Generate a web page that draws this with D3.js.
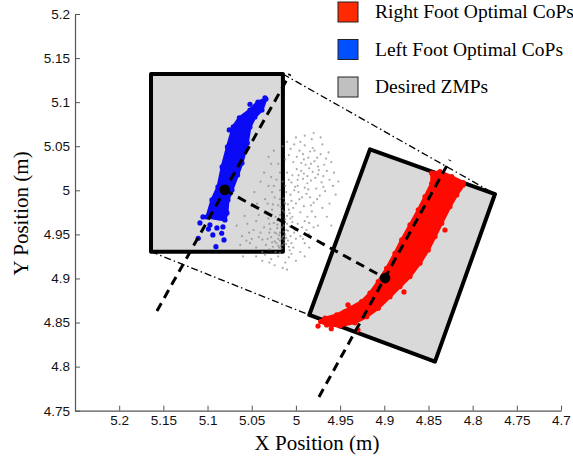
<!DOCTYPE html>
<html>
<head>
<meta charset="utf-8">
<script src="https://cdnjs.cloudflare.com/ajax/libs/d3/7.8.5/d3.min.js"></script>
<style>
  body { margin: 0; background: #fff; }
</style>
</head>
<body>
<div id="chart"></div>
<script>
// tick labels
var xTicks = [5.2, 5.15, 5.1, 5.05, 5, 4.95, 4.9, 4.85, 4.8, 4.75, 4.7];
var yTicks = [4.75, 4.8, 4.85, 4.9, 4.95, 5, 5.05, 5.1, 5.15, 5.2];

// foot rectangles (corners, m)
var leftFoot = [[5.164, 5.132], [5.0147, 5.132], [5.0147, 4.9304], [5.164, 4.9304]];
var rightFoot = [[4.9162, 5.0465], [4.7747, 4.9958], [4.8426, 4.8056], [4.9849, 4.8586]];

// foot centres and axes
var centres = [[5.0805, 5.0005], [4.8991, 4.9004]];
var leftAxis = [[5.1573, 4.8631], [5.0067, 5.1319]];
var rightAxis = [[4.9739, 4.7656], [4.8256, 5.0344]];

// support polygon edges (dash-dot)
var hullTop = [[5.0147, 5.1319], [4.7747, 4.9958]];
var hullBottom = [[5.1641, 4.9304], [4.9849, 4.8586]];

// dense region of left foot optimal CoPs
var leftCoPBand = [
  [5.0339, 5.1036], [5.0384, 5.0911], [5.0464, 5.0832], [5.0520, 5.0719], [5.0550, 5.0537],
  [5.0610, 5.0310], [5.0660, 5.0174], [5.0724, 5.0004], [5.0769, 4.9891], [5.0780, 4.9743],
  [5.0803, 4.9664], [5.1007, 4.9698], [5.0950, 4.9891], [5.0882, 5.0038], [5.0835, 5.0265],
  [5.0775, 5.0492], [5.0710, 5.0719], [5.0640, 5.0821], [5.0520, 5.0911], [5.0430, 5.1002]
];
var leftCoPPoints = [
  [5.0754, 5.0685], [5.0520, 5.0976], [5.1052, 4.9698], [5.1086, 4.9630], [5.1105, 4.9456],
  [5.0905, 4.9361], [5.0840, 4.9513], [5.0894, 4.9573], [5.0826, 4.9585], [5.0860, 4.9698],
  [5.0973, 4.9607], [5.0940, 4.9494], [5.0814, 4.9437], [5.0350, 5.1050], [5.0990, 4.9560]
];

// dense region of right foot optimal CoPs
var rightCoPBand = [
  [4.8106, 5.0061], [4.8180, 4.9947], [4.8256, 4.9815], [4.8350, 4.9627], [4.8426, 4.9475],
  [4.8502, 4.9324], [4.8596, 4.9173], [4.8709, 4.9021], [4.8822, 4.8908], [4.8935, 4.8794],
  [4.9068, 4.8663], [4.9199, 4.8567], [4.9332, 4.8499], [4.9501, 4.8462], [4.9652, 4.8473],
  [4.9720, 4.8511], [4.9671, 4.8549], [4.9539, 4.8587], [4.9388, 4.8663], [4.9256, 4.8737],
  [4.9162, 4.8833], [4.9068, 4.8964], [4.8973, 4.9116], [4.8879, 4.9286], [4.8803, 4.9437],
  [4.8709, 4.9607], [4.8615, 4.9777], [4.8539, 4.9928], [4.8463, 5.0080], [4.8463, 5.0194],
  [4.8369, 5.0212], [4.8237, 5.0155], [4.8106, 5.0087]
];
var rightCoPPoints = [
  [4.9411, 4.8700], [4.9298, 4.8417], [4.8483, 4.9494], [4.9750, 4.8460], [4.9445, 4.8620],
  [4.8777, 4.8847], [4.8313, 4.9550], [4.8143, 5.0027], [4.9600, 4.8430], [4.8880, 4.9050]
];

// desired ZMPs
var zmpPoints = [
  [5.012,4.985],[5.018,4.972],[5.021,4.961],[5.009,4.954],[5.015,4.947],[5.024,4.942],[5.011,4.939],
  [5.019,4.935],[5.006,4.968],[5.027,4.978],[5.014,4.991],[5.008,4.978],[5.022,4.951],[5.016,4.958],
  [5.013,4.944],[5.026,4.936],[5.010,4.962],[5.020,4.983],[5.005,4.988],[5.017,4.966],[5.023,4.970],
  [5.012,4.950],[5.028,4.947],[5.009,4.943],[5.015,4.938],[5.021,4.957],[5.007,4.959],[5.025,4.963],
  [5.013,4.975],[5.003,4.980],[5.018,4.990],[5.011,4.998],[5.024,4.992],[5.006,4.948],[5.020,4.945],
  [5.014,4.953],[5.017,4.981],[5.010,4.971],[5.029,4.956],[5.004,4.964],[5.016,4.934],[5.022,4.940],
  [5.008,4.936],[5.019,4.949],[5.012,4.967],[5.026,4.984],[5.002,4.952],[5.015,4.977],[5.021,4.966],
  [5.009,4.984],[5.031,4.968],[5.014,4.960],[5.018,4.943],[5.007,4.974],[5.024,4.952],[5.011,4.946],
  [5.020,4.937],[5.013,4.986],[5.005,4.940],[5.027,4.941],
  [5.016,4.945],[5.013,4.940],[5.018,4.952],[5.014,4.948],[5.017,4.937],[5.011,4.955],
  [4.998,5.012],[4.985,5.025],[4.992,5.041],[4.975,5.018],[5.003,5.032],[4.981,5.048],[4.968,5.029],
  [4.990,5.003],[4.977,5.002],[5.006,5.047],[4.995,5.055],[4.986,5.037],[4.972,5.041],[4.962,5.012],
  [4.983,5.011],[4.999,5.024],[4.991,5.019],[4.979,5.033],[4.965,5.022],[5.001,5.004],[4.988,4.996],
  [4.973,4.994],[4.994,5.031],[4.982,5.058],[4.970,5.052],[4.996,5.045],[4.958,5.005],[4.987,5.008],
  [4.975,5.027],[5.004,5.017],[4.993,4.992],[4.980,4.986],[4.967,4.999],[4.999,5.038],[4.984,5.044],
  [4.978,5.014],[4.960,5.032],[4.989,5.029],[5.002,5.052],[4.971,5.009],[4.990,5.051],[4.963,5.043],
  [4.986,5.001],[4.997,4.998],[4.976,5.037],[4.981,5.021],[5.005,5.009],[4.969,5.016],[4.992,5.013],
  [4.984,4.992],
  [4.955,4.995],[4.952,5.010],[4.957,5.020],[4.962,4.985],[4.970,4.980],[4.965,4.970],[4.975,4.960],
  [4.960,4.960],[4.972,5.060],[4.980,5.065],[4.990,5.062],[5.000,5.060],[5.010,5.055],[5.008,5.040],
  [5.015,5.050],[5.002,5.000],[4.998,5.005],[5.006,4.995],[5.012,5.005],[5.018,5.000],[5.025,5.005],
  [5.028,5.015],[5.020,5.030],[5.010,5.020],[4.994,5.022],[4.987,5.016],[4.979,5.045],[4.966,5.036],
  [4.974,5.023],[4.983,5.030],[4.991,5.035],[4.997,5.017],[4.969,5.004],[4.976,4.990],[4.983,4.983],
  [4.990,4.965],[4.988,4.955],[4.980,4.958],[4.992,4.945],[5.003,4.935],[5.007,4.932],[5.018,4.929],
  [5.023,4.930],[5.030,4.933],[5.032,4.945],[5.030,4.962],[5.032,4.985],[5.027,4.998],[5.015,5.010],
  [5.008,5.012],[5.045,4.965],[5.050,4.945],[5.040,4.952],[5.056,4.943],[5.060,4.925],[5.045,4.925],
  [5.030,4.918],[5.010,4.910],[4.990,4.925],[4.985,4.935],
  [5.000,4.985],[4.995,4.975],[5.004,4.970],[4.991,4.982],[4.998,4.962],[4.987,4.970],[5.001,4.955],
  [4.993,4.958],[4.982,4.976],[4.996,4.990],[4.985,4.963],[4.978,4.970],
  [5.035,4.990],[5.042,4.972],[5.048,4.955],[5.038,4.944],[5.055,4.962],[5.031,5.005],[5.044,4.985],
  [5.052,4.940],[5.036,4.958],[5.061,4.948],[5.040,5.010],[5.047,4.998],[5.033,4.975],[5.058,4.971],
  [5.045,4.935],[5.067,4.960],[5.050,4.982],[5.038,4.930],[5.034,4.938],[5.042,4.947],[5.030,4.952],
  [5.053,4.952],[5.063,4.938],[5.036,5.020],[5.028,5.030],[5.022,5.012],[5.031,5.038],[5.018,5.020],
  [5.012,5.035],[5.025,5.045],
  [5.020,4.925],[5.012,4.918],[5.028,4.922],[5.005,4.928],[5.035,4.927],[5.015,4.912],[5.000,4.920],
  [5.024,4.915],[4.995,4.930],[5.008,4.924],[5.038,4.920],[4.990,4.940],[4.985,4.950],[5.000,4.945],
  [4.995,4.948]
];

var legendItems = ["Right Foot Optimal CoPs", "Left Foot Optimal CoPs", "Desired ZMPs"];
var legendColors = ["#ff2a00", "#0050ff", "#c0c0c0"];

var margin = {top: 14, right: 12, bottom: 50, left: 75},
    width = 573 - margin.left - margin.right,
    height = 461 - margin.top - margin.bottom - 0.3;

var svg = d3.select("#chart")
  .append("svg")
  .attr("width", 573)
  .attr("height", 461)
  .append("g")
  .attr("transform", "translate(" + margin.left + "," + margin.top + ")");

var x = d3.scaleLinear().domain([5.25, 4.7]).range([0, width]);
var y = d3.scaleLinear().domain([4.75, 5.2]).range([height, 0]);

var line = d3.line().x(function(d) { return x(d[0]); }).y(function(d) { return y(d[1]); });

// feet
[leftFoot, rightFoot].forEach(function(f) {
  svg.append("path")
    .attr("d", line(f) + "Z")
    .attr("fill", "#d9d9d9")
    .attr("stroke", "#000")
    .attr("stroke-width", 4)
    .attr("stroke-linejoin", "round");
});

// desired ZMPs
svg.selectAll(".zmp")
  .data(zmpPoints)
  .enter()
  .append("circle")
  .attr("class", "zmp")
  .attr("cx", function(d) { return x(d[0]); })
  .attr("cy", function(d) { return y(d[1]); })
  .attr("r", 1.1)
  .attr("fill", "#808080")
  .attr("opacity", 0.65);

// optimal CoPs
function drawCoPs(band, pts, color) {
  svg.append("path")
    .attr("d", line(band) + "Z")
    .attr("fill", color)
    .attr("stroke", color)
    .attr("stroke-width", 3)
    .attr("stroke-linejoin", "round");
  svg.selectAll(null)
    .data(band.concat(pts))
    .enter()
    .append("circle")
    .attr("cx", function(d) { return x(d[0]); })
    .attr("cy", function(d) { return y(d[1]); })
    .attr("r", 2.6)
    .attr("fill", color);
}
drawCoPs(leftCoPBand, leftCoPPoints, "#0a0af5");
drawCoPs(rightCoPBand, rightCoPPoints, "#ff0a00");

// foot axes and link
[leftAxis, rightAxis, centres].forEach(function(l) {
  svg.append("path")
    .attr("d", line(l))
    .attr("fill", "none")
    .attr("stroke", "#000")
    .attr("stroke-width", 3)
    .attr("stroke-dasharray", "9,6");
});

// support polygon
[hullTop, hullBottom].forEach(function(l) {
  svg.append("path")
    .attr("d", line(l))
    .attr("fill", "none")
    .attr("stroke", "#000")
    .attr("stroke-width", 1.3)
    .attr("stroke-dasharray", "7,3,1.5,3");
});

svg.selectAll(".centre")
  .data(centres)
  .enter()
  .append("circle")
  .attr("class", "centre")
  .attr("cx", function(d) { return x(d[0]); })
  .attr("cy", function(d) { return y(d[1]); })
  .attr("r", 5.3)
  .attr("fill", "#000");

// axes
var xAxis = svg.append("g")
  .attr("transform", "translate(0," + height + ")")
  .call(d3.axisBottom(x).tickValues(xTicks).tickFormat(d3.format("")).tickSizeInner(-5).tickSizeOuter(0).tickPadding(5));
var yAxis = svg.append("g")
  .call(d3.axisLeft(y).tickValues(yTicks).tickFormat(d3.format("")).tickSizeInner(-5).tickSizeOuter(0).tickPadding(5));
[xAxis, yAxis].forEach(function(a) {
  a.select(".domain").attr("stroke", "#555").attr("stroke-width", 1.2);
  a.selectAll(".tick line").attr("stroke", "#555");
  a.selectAll(".tick text")
    .attr("fill", "#111")
    .style("font-family", "'Liberation Sans', Arial, sans-serif")
    .style("font-size", "13.5px");
});

svg.append("text")
  .attr("x", width / 2 - 1)
  .attr("y", height + 39)
  .attr("text-anchor", "middle")
  .style("font-family", "'Liberation Serif', 'DejaVu Serif', serif")
  .style("font-size", "21px")
  .text("X Position (m)");

svg.append("text")
  .attr("transform", "translate(" + (-47) + "," + (height / 2 + 1) + ") rotate(-90)")
  .attr("text-anchor", "middle")
  .style("font-family", "'Liberation Serif', 'DejaVu Serif', serif")
  .style("font-size", "21px")
  .text("Y Position (m)");

// legend
var legend = svg.selectAll(".legend")
  .data(legendItems)
  .enter()
  .append("g")
  .attr("class", "legend")
  .attr("transform", function(d, i) { return "translate(" + (338 - margin.left) + "," + (2 + i * 37.5 - margin.top) + ")"; });
legend.append("rect")
  .attr("width", 20)
  .attr("height", 20)
  .attr("fill", function(d, i) { return legendColors[i]; })
  .attr("stroke", "#222")
  .attr("stroke-width", 1);
legend.append("text")
  .attr("x", 37)
  .attr("y", 16)
  .style("font-family", "'Liberation Serif', 'DejaVu Serif', serif")
  .style("font-size", "19.5px")
  .text(function(d) { return d; });
</script>
</body>
</html>
